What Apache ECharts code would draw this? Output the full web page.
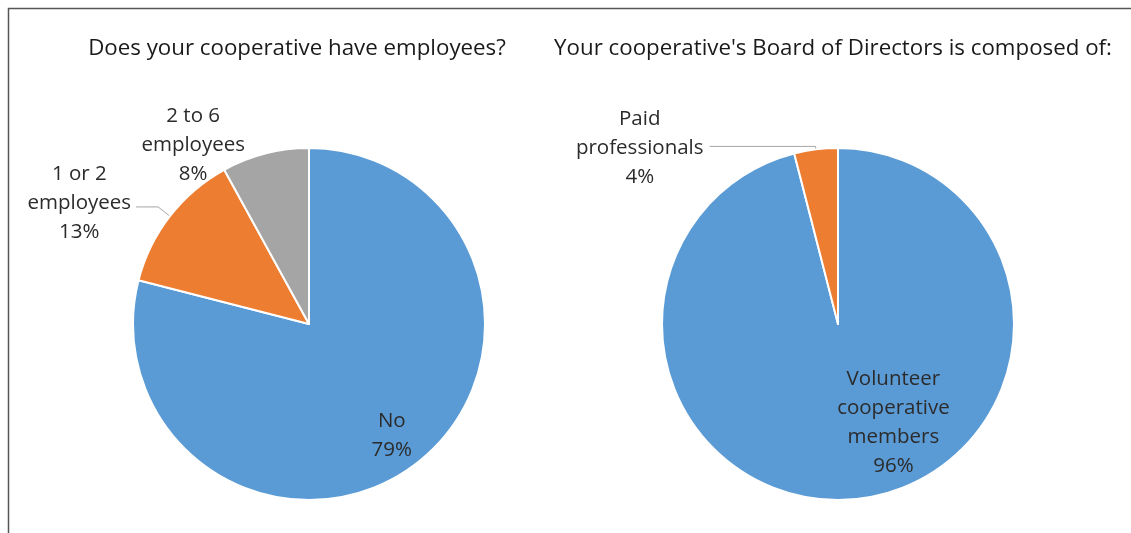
<!DOCTYPE html>
<html>
<head>
<meta charset="utf-8">
<script src="https://cdn.jsdelivr.net/npm/echarts@6/dist/echarts.min.js"></script>
<style>
  html, body { margin: 0; padding: 0; background: #ffffff; }
  #chart { width: 1131px; height: 533px; }
</style>
</head>
<body>
<div id="chart"></div>
<script>
// Survey answers, one pie each
const employeeTitle = 'Does your cooperative have employees?';
const employeeCategories = ['No', '1 or 2\nemployees', '2 to 6\nemployees'];
const employeeShares = [79, 13, 8];

const boardTitle = "Your cooperative's Board of Directors is composed of:";
const boardCategories = ['Volunteer\ncooperative\nmembers', 'Paid\nprofessionals'];
const boardShares = [96, 4];

const sliceColors = ['#5B9BD5', '#ED7D31', '#A5A5A5'];

const FONT = '"Open Sans"';
const labelText = { fontFamily: FONT, fontSize: 20.5, color: '#2b2b2b', lineHeight: 29 };

// Fine offsets for each label, keyed by series then slice
const labelNudges = [
  [{ dx: 27, dy: 40 }, { dx: 0, dy: -4 }, { dx: 0, dy: -4 }],
  [{ dx: 44, dy: 8 }, { dx: -1, dy: 2 }]
];

function buildData(names, values, insideIndex) {
  return names.map((n, i) => {
    const item = { name: n, value: values[i], itemStyle: { color: sliceColors[i] } };
    if (i === insideIndex) {
      item.label = { position: 'inside' };
    }
    return item;
  });
}

function layoutFor(seriesIdx) {
  return function (params) {
    const r = params.labelRect;
    const n = labelNudges[seriesIdx][params.dataIndex] || { dx: 0, dy: 0 };
    const out = {
      x: r.x + r.width / 2 + n.dx,
      y: r.y + r.height / 2 + n.dy,
      align: 'center',
      verticalAlign: 'middle'
    };
    if (params.labelLinePoints) out.labelLinePoints = params.labelLinePoints;
    return out;
  };
}

const employeeData = buildData(employeeCategories, employeeShares, 0);
employeeData[1].labelLine = { length: 15, length2: 22 };
employeeData[2].labelLine = { show: false, length: 5, length2: 14 };

const boardData = buildData(boardCategories, boardShares, 0);
boardData[1].labelLine = { length: 3, length2: 106 };

const chart = echarts.init(document.getElementById('chart'), null, { renderer: 'canvas' });

const pieBase = {
  type: 'pie',
  radius: 176,
  startAngle: 90,
  clockwise: true,
  avoidLabelOverlap: false,
  percentPrecision: 0,
  silent: true,
  animation: false,
  itemStyle: { borderColor: '#ffffff', borderWidth: 2 },
  label: Object.assign({ formatter: '{b}\n{d}%', alignTo: 'none', distanceToLabelLine: 5 }, labelText),
  labelLine: { show: true, lineStyle: { color: '#A6A6A6', width: 1 } }
};

const titleText = { fontFamily: FONT, fontSize: 22.3, fontWeight: 'normal', color: '#1a1a1a' };

chart.setOption({
  backgroundColor: '#ffffff',
  animation: false,
  title: [
    { text: employeeTitle, left: 292, top: 33, textAlign: 'center', textStyle: titleText },
    { text: boardTitle, left: 828, top: 33, textAlign: 'center', textStyle: titleText }
  ],
  graphic: [
    {
      type: 'rect', silent: true,
      shape: { x: 8.5, y: 8.5, width: 1200, height: 600 },
      style: { fill: 'none', stroke: '#555555', lineWidth: 1.5 }
    }
  ],
  series: [
    Object.assign({}, pieBase, {
      center: [309, 324],
      data: employeeData,
      labelLayout: layoutFor(0)
    }),
    Object.assign({}, pieBase, {
      center: [838, 324],
      data: boardData,
      labelLayout: layoutFor(1)
    })
  ]
});
</script>
</body>
</html>
